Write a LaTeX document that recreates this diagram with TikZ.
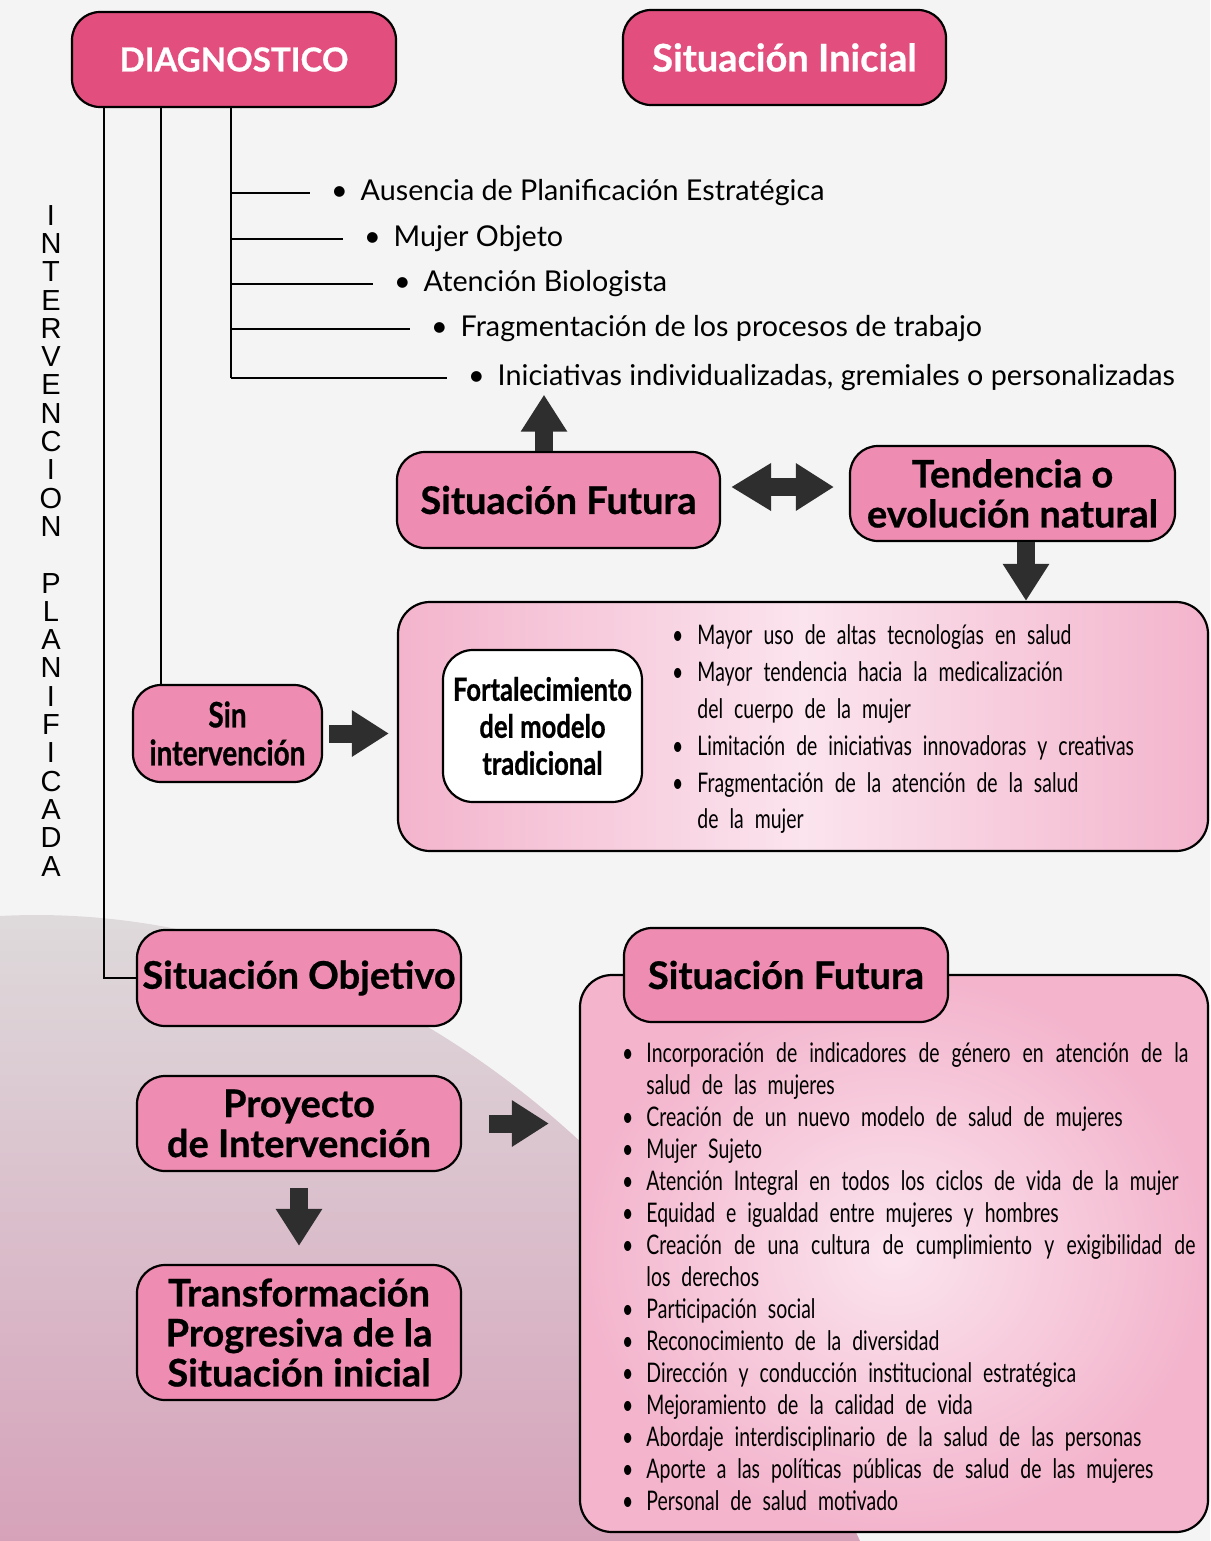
\documentclass[tikz,border=0pt]{standalone}
\usepackage{fontspec}
\setmainfont{Lato}
\newfontfamily\heavyfont[BoldFeatures={FakeBold=0.7}]{Lato}
\newfontfamily\condfont[FakeStretch=0.72]{Lato}
\newfontfamily\condbold[FakeStretch=0.8, BoldFeatures={FakeBold=0.7}]{Lato}
\newfontfamily\vertfont{Liberation Sans}
\usetikzlibrary{arrows.meta}
\definecolor{pinkdark}{HTML}{E24E7E}
\definecolor{pinkmid}{HTML}{EE8CB1}
\definecolor{pinklight}{HTML}{F3B4CC}
\definecolor{pinkpale}{HTML}{FBE4EE}
\definecolor{arrowgray}{HTML}{2E2E2E}
\definecolor{pagebg}{HTML}{F5F4F4}
\definecolor{shadetop}{HTML}{DEDBDC}
\definecolor{shadebot}{HTML}{D6A2BA}
\newcommand{\boxfont}{\heavyfont\bfseries\fontsize{38}{40}\selectfont}
\newcommand{\listfont}{\condfont\fontsize{27}{32}\selectfont\spaceskip=11pt plus 6pt minus 2pt\relax}
\newcommand{\natfont}{\condfont\fontsize{27}{36.8}\selectfont\spaceskip=11pt plus 6pt minus 2pt\relax}

\begin{document}
\begin{tikzpicture}[x=1pt, y=-1pt,
  box/.style={draw=black, line width=2.2pt, rounded corners=28pt, align=center, inner sep=0pt, font=\boxfont},
  darkbox/.style={box, fill=pinkdark, text=white},
  midbox/.style={box, fill=pinkmid, text=black},
  bigbox/.style={draw=black, line width=2.2pt, rounded corners=32pt, inner sep=0pt},
  stem/.style={draw=black, line width=2pt},
  blockarrow/.style={draw=arrowgray, line width=18pt, -{Triangle[width=44pt,length=37pt]}},
  bothways/.style={draw=arrowgray, line width=18pt, {Triangle[width=45pt,length=40pt]}-{Triangle[width=45pt,length=38pt]}},
  problem/.style={anchor=west, inner xsep=21pt, font=\fontsize{28.7}{32}\selectfont}]
\useasboundingbox (0,0) rectangle (1210,1541);
\fill[pagebg] (0,0) rectangle (1210,1541);
\shade[top color=shadetop, bottom color=shadebot] (0,1541) -- (0,916) .. controls (300,900) and (650,1080) .. (860,1541) -- cycle;

% top row
\node[darkbox, minimum width=324pt, minimum height=95pt, font=\heavyfont\bfseries\fontsize{33}{40}\selectfont] (diag) at (234,59.5) {DIAGNOSTICO};
\node[darkbox, minimum width=323pt, minimum height=95pt] (inicial) at (784.5,57.5) {Situación Inicial};
\coordinate (d1) at ([xshift=33pt]diag.south west);
\coordinate (d2) at ([xshift=90pt]diag.south west);
\coordinate (d3) at ([xshift=160pt]diag.south west);

\node[font=\vertfont\fontsize{29}{28.3}\selectfont, align=center, inner sep=0pt, anchor=north] (vlabel) at (51,205)
  {I\\N\\T\\E\\R\\V\\E\\N\\C\\I\\O\\N\\[28.3pt]P\\L\\A\\N\\I\\F\\I\\C\\A\\D\\A};

% situacion inicial
\node[problem] (aus) at (310,193) {\textbullet\hspace{0.45em}Ausencia de Planificación Estratégica};
\node[problem] (muj) at (343,239) {\textbullet\hspace{0.45em}Mujer Objeto};
\node[problem] (ate) at (373,284) {\textbullet\hspace{0.45em}Atención Biologista};
\node[problem] (fra) at (410,329) {\textbullet\hspace{0.45em}Fragmentación de los procesos de trabajo};
\node[problem] (ini) at (447,378) {\textbullet\hspace{0.45em}Iniciativas individualizadas, gremiales o personalizadas};
\draw[stem] (d3) -- (d3 |- ini.west);
\foreach \p in {aus,muj,ate,fra,ini}
  \draw[stem] (d3 |- \p.west) -- (\p.west);

% sin intervencion
\node[midbox, minimum width=323pt, minimum height=96pt] (futmid) at (558.5,500) {Situación Futura};
\node[midbox, minimum width=325pt, minimum height=95pt] (tend) at (1012.5,493.5) {Tendencia o\\evolución natural};
\draw[blockarrow] ([xshift=-14.5pt]futmid.north) -- ([xshift=-14.5pt]futmid.north |- ini.south);
\draw[bothways, shorten <=10pt, shorten >=15pt] ([yshift=13pt]futmid.east) -- ([yshift=6.5pt]tend.west);

\node[bigbox, left color=pinklight, right color=pinklight, middle color=pinkpale, minimum width=810pt, minimum height=249pt] (natbox) at (803,726.5) {};
\draw[blockarrow] ([xshift=13.5pt]tend.south) -- ([xshift=13.5pt]tend.south |- natbox.north);
\node[box, fill=white, rounded corners=30pt, minimum width=199pt, minimum height=152pt, font=\condbold\bfseries\fontsize{32}{37}\selectfont] (fortal) at (542.5,726) {Fortalecimiento\\del modelo\\tradicional};
\node[anchor=north west, inner sep=0pt, font=\natfont] (natlist) at (672,619) {\begin{tabular}{@{}l@{\hspace{14pt}}l@{}}
  \textbullet & Mayor uso de altas tecnologías en salud\\
  \textbullet & Mayor tendencia hacia la medicalización\\
   & del cuerpo de la mujer\\
  \textbullet & Limitación de iniciativas innovadoras y creativas\\
  \textbullet & Fragmentación de la atención de la salud\\
   & de la mujer
\end{tabular}};

\node[midbox, minimum width=189pt, minimum height=97pt, font=\condbold\bfseries\fontsize{35}{38}\selectfont] (sin) at (227.5,733.5) {Sin\\intervención};
\draw[stem] (d2) -- (d2 |- sin.north);
\draw[blockarrow, shorten <=6pt, shorten >=8pt] (sin.east) -- (sin.east -| natbox.west);

% intervencion planificada
\node[midbox, minimum width=324pt, minimum height=96pt] (objetivo) at (299,978) {Situación Objetivo};
\draw[stem] (d1) |- (objetivo.west);
\node[midbox, minimum width=324pt, minimum height=95pt] (proyecto) at (299,1123.5) {Proyecto\\de Intervención};
\node[midbox, minimum width=324pt, minimum height=135pt] (transf) at (299,1332.5) {Transformación\\Progresiva de la\\Situación inicial};
\draw[blockarrow, shorten <=16pt, shorten >=18pt] (proyecto.south) -- (transf.north);

\node[bigbox, shading=radial, inner color=pinkpale, outer color=pinklight, minimum width=628pt, minimum height=557pt] (futbox) at (894,1253.5) {};
\node[midbox, minimum width=324pt, minimum height=94pt] (futtab) at (786,975) {Situación Futura};
\draw[blockarrow, shorten <=27pt, shorten >=30pt] (proyecto.east) -- (proyecto.east -| futbox.west);
\node[anchor=north west, inner sep=0pt, font=\listfont] (futlist) at (622,1040) {\begin{tabular}{@{}l@{\hspace{13pt}}l@{}}
  \textbullet & \makebox[542pt][s]{Incorporación de indicadores de género en atención de la}\\
   & salud de las mujeres\\
  \textbullet & Creación de un nuevo modelo de salud de mujeres\\
  \textbullet & Mujer Sujeto\\
  \textbullet & Atención Integral en todos los ciclos de vida de la mujer\\
  \textbullet & Equidad e igualdad entre mujeres y hombres\\
  \textbullet & \makebox[549pt][s]{Creación de una cultura de cumplimiento y exigibilidad de}\\
   & los derechos\\
  \textbullet & Participación social\\
  \textbullet & Reconocimiento de la diversidad\\
  \textbullet & Dirección y conducción institucional estratégica\\
  \textbullet & Mejoramiento de la calidad de vida\\
  \textbullet & Abordaje interdisciplinario de la salud de las personas\\
  \textbullet & Aporte a las políticas públicas de salud de las mujeres\\
  \textbullet & Personal de salud motivado
\end{tabular}};
\end{tikzpicture}
\end{document}
